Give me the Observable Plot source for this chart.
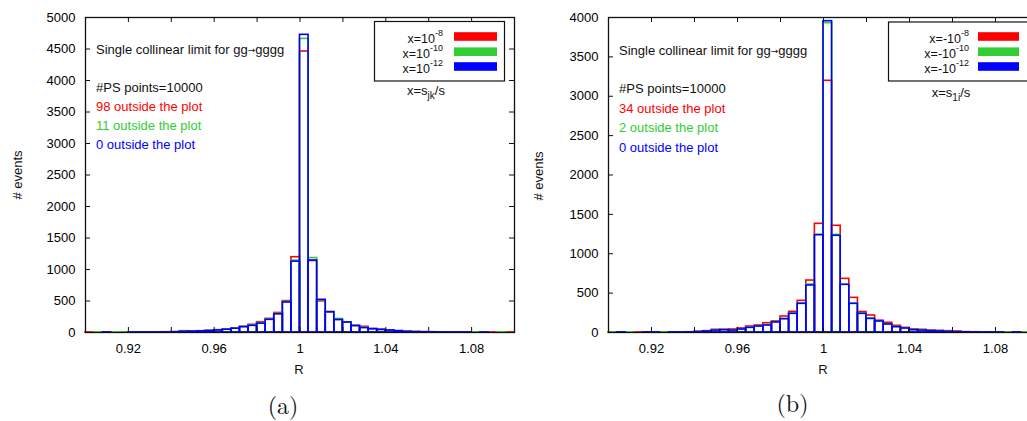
<!DOCTYPE html>
<html>
<head>
<meta charset="utf-8">
<script src="https://cdn.jsdelivr.net/npm/d3@7"></script>
<script src="https://cdn.jsdelivr.net/npm/@observablehq/plot@0.6"></script>
<style>
html, body { margin: 0; padding: 0; background: #fff; }
#root { position: relative; width: 1027px; height: 421px; overflow: hidden; font-family: "Liberation Sans", Arial, sans-serif; }
.panel { position: absolute; top: 0; }
#overlay { position: absolute; left: 0; top: 0; pointer-events: none; }
</style>
</head>
<body>
<div id="root">
  <div id="panelA" class="panel" style="left:0px;width:520px;"></div>
  <div id="panelB" class="panel" style="left:520px;width:530px;"></div>
</div>
<script>
// ---------------- DATA ----------------
const BIN_WIDTH = 0.004;
const binLeft = [
  0.900, 0.904, 0.908, 0.912, 0.916, 0.920, 0.924, 0.928, 0.932, 0.936,
  0.940, 0.944, 0.948, 0.952, 0.956, 0.960, 0.964, 0.968, 0.972, 0.976,
  0.980, 0.984, 0.988, 0.992, 0.996, 1.000, 1.004, 1.008, 1.012, 1.016,
  1.020, 1.024, 1.028, 1.032, 1.036, 1.040, 1.044, 1.048, 1.052, 1.056,
  1.060, 1.064, 1.068, 1.072, 1.076, 1.080, 1.084, 1.088, 1.092, 1.096
];

// Panel (a): x = s_jk/s
const aRed = [
  1, 0, 1, 0, 1, 1, 2, 1, 2, 4,
  6, 21, 16, 21, 26, 37, 48, 63, 90, 122,
  164, 217, 310, 498, 1195, 4460, 1135, 495, 320, 200,
  160, 100, 90, 55, 42, 32, 21, 11, 8, 5,
  4, 3, 2, 1, 1, 1, 0, 1, 0, 1
];
const aGreen = [
  0, 1, 0, 1, 1, 1, 1, 2, 1, 3,
  5, 15, 15, 19, 25, 35, 46, 61, 87, 112,
  150, 208, 296, 485, 1140, 4660, 1182, 510, 325, 215,
  160, 103, 75, 54, 42, 31, 21, 10, 7, 5,
  3, 2, 2, 1, 0, 1, 1, 0, 1, 0
];
const aBlue = [
  0, 0, 1, 0, 0, 1, 1, 1, 1, 2,
  4, 11, 14, 18, 24, 33, 44, 60, 85, 106,
  140, 201, 288, 476, 1125, 4725, 1143, 519, 323, 199,
  159, 106, 70, 53, 42, 32, 21, 11, 6, 4,
  3, 2, 1, 1, 1, 0, 1, 0, 0, 0
];

// Panel (b): x = s_1i/s
const bRed = [
  1, 1, 0, 1, 1, 2, 1, 2, 2, 3,
  8, 17, 34, 34, 38, 51, 76, 89, 118, 140,
  203, 262, 402, 660, 1380, 3196, 1355, 681, 440, 260,
  216, 150, 123, 85, 59, 38, 34, 25, 21, 17,
  13, 4, 3, 2, 2, 1, 1, 1, 0, 1
];
const bGreen = [
  1, 0, 1, 0, 1, 1, 1, 1, 2, 2,
  7, 14, 27, 31, 28, 40, 62, 78, 95, 131,
  172, 240, 368, 609, 1240, 3928, 1240, 607, 366, 240,
  176, 142, 104, 70, 53, 32, 27, 19, 14, 10,
  5, 3, 2, 1, 1, 1, 1, 0, 1, 0
];
const bBlue = [
  0, 1, 0, 0, 1, 1, 0, 1, 1, 2,
  6, 13, 25, 30, 25, 38, 59, 76, 89, 128,
  169, 237, 364, 597, 1236, 3953, 1228, 605, 364, 237,
  173, 140, 102, 68, 51, 30, 25, 17, 13, 8,
  4, 3, 2, 1, 1, 1, 0, 1, 0, 0
];

const xTicks = [0.92, 0.94, 0.96, 0.98, 1.00, 1.02, 1.04, 1.06, 1.08];
const xTickLabels = [0.92, 0.96, 1, 1.04, 1.08];
const yTicksA = [0, 500, 1000, 1500, 2000, 2500, 3000, 3500, 4000, 4500, 5000];
const yTicksB = [0, 500, 1000, 1500, 2000, 2500, 3000, 3500, 4000];

const seriesColors = ["#ff0000", "#32cd32", "#0000ff"];
const legendA = [["x=10", "-8"], ["x=10", "-10"], ["x=10", "-12"]];
const legendB = [["x=-10", "-8"], ["x=-10", "-10"], ["x=-10", "-12"]];
const outsideA = ["98 outside the plot", "11 outside the plot", "0 outside the plot"];
const outsideB = ["34 outside the plot", "2 outside the plot", "0 outside the plot"];
const psPoints = "#PS points=10000";
const titleParts = ["Single collinear limit for gg", "\u2192", "gggg"];
const xLabel = "R";
const yLabel = "# events";

// ---------------- CHART ----------------
const FONT = "'Liberation Sans', Arial, sans-serif";
const rowsOf = vals => binLeft.map((x1, i) => ({x1, x2: x1 + BIN_WIDTH, v: vals[i]}));

function histPanel({width, marginLeft, marginRight, yMax, yTicks, series}) {
  const height = 380, marginTop = 17, marginBottom = 48;
  const W = width - marginLeft - marginRight;
  const H = height - marginTop - marginBottom;
  const marks = series.map((vals, k) =>
    Plot.rectY(rowsOf(vals), {x1: "x1", x2: "x2", y: "v", fill: "none", stroke: seriesColors[k], strokeWidth: 1.6})
  );
  return Plot.plot({
    width, height, marginLeft, marginRight, marginTop, marginBottom,
    x: {domain: [0.9, 1.1]},
    y: {domain: [0, yMax]},
    style: {fontFamily: FONT, fontSize: "13px", color: "black", background: "transparent", maxWidth: "none", overflow: "visible"},
    marks: [
      ...marks,
      Plot.tickX(xTicks, {x: d => d, insetTop: H - 5, stroke: "#111"}),
      Plot.tickX(xTicks, {x: d => d, insetBottom: H - 5, stroke: "#111"}),
      Plot.tickY(yTicks, {y: d => d, insetRight: W - 5, stroke: "#111"}),
      Plot.tickY(yTicks, {y: d => d, insetLeft: W - 5, stroke: "#111"}),
      Plot.frame({stroke: "#111", strokeWidth: 1.3}),
      Plot.axisX(xTickLabels, {tickSize: 0, tickPadding: 11, fontSize: 13, label: null, tickFormat: d => String(d)}),
      Plot.axisY(yTicks, {tickSize: 0, tickPadding: 10, fontSize: 13, label: null, tickFormat: d => String(d)})
    ]
  });
}

document.getElementById("panelA").append(histPanel({
  width: 520, marginLeft: 85, marginRight: 6, yMax: 5000, yTicks: yTicksA,
  series: [aRed, aGreen, aBlue]
}));
document.getElementById("panelB").append(histPanel({
  width: 530, marginLeft: 88, marginRight: 12, yMax: 4000, yTicks: yTicksB,
  series: [bRed, bGreen, bBlue]
}));

// ---------------- TEXT OVERLAY ----------------
const svg = d3.select("#root").append("svg")
  .attr("id", "overlay").attr("width", 1027).attr("height", 421)
  .style("font-family", FONT).style("font-size", "13px");

function annotations(g, x, baselines, outside) {
  const t = g.append("text").attr("x", x).attr("y", baselines[0]).attr("fill", "#111");
  t.append("tspan").text(titleParts[0]);
  t.append("tspan").attr("font-size", 9).style("font-family", "'DejaVu Sans', sans-serif").attr("dy", -0.5).text(titleParts[1]);
  t.append("tspan").attr("font-size", 13).attr("dy", 0.5).text(titleParts[2]);
  g.append("text").attr("x", x).attr("y", baselines[1]).attr("fill", "#111").text(psPoints);
  outside.forEach((s, i) => g.append("text").attr("x", x).attr("y", baselines[i + 2]).attr("fill", seriesColors[i]).text(s));
}
annotations(svg, 96, [53.5, 91.5, 110.5, 129.5, 148.5], outsideA);
annotations(svg, 619, [54.5, 93, 112.5, 132, 151.5], outsideB);

function legend(g, box, textRight, swX, swW, entries, varLabel, varSub, varX, varY) {
  g.append("rect").attr("x", box[0]).attr("y", box[1]).attr("width", box[2]).attr("height", box[3])
    .attr("fill", "white").attr("stroke", "#111").attr("stroke-width", 1.2);
  const base = [43.3, 58, 72.5];
  const swC = [36.5, 51.7, 66.5];
  entries.forEach((e, i) => {
    const t = g.append("text").attr("x", textRight).attr("y", base[i]).attr("text-anchor", "end")
      .attr("fill", "#111").attr("font-size", 12.5);
    t.append("tspan").text(e[0]);
    t.append("tspan").attr("font-size", 9).attr("dy", -7).text(e[1]);
    g.append("rect").attr("x", swX).attr("y", swC[i] - 4.3).attr("width", swW).attr("height", 8.6).attr("fill", seriesColors[i]);
  });
  const v = g.append("text").attr("x", varX).attr("y", varY).attr("text-anchor", "middle").attr("fill", "#111");
  v.append("tspan").text(varLabel[0]);
  v.append("tspan").attr("font-size", 10).attr("dy", 4).text(varSub);
  v.append("tspan").attr("dy", -4).text(varLabel[1]);
}
legend(svg, [374.5, 21.5, 130, 59.5], 443, 454, 43, legendA, ["x=s", "/s"], "jk", 426, 95);
legend(svg, [888.5, 22, 145, 59], 969, 978, 41, legendB, ["x=s", "/s"], "1i", 951, 97);

// axis titles
[[21.5, 175], [543, 176]].forEach(([x, y]) => {
  svg.append("text").attr("transform", `translate(${x},${y}) rotate(-90)`).attr("text-anchor", "middle").attr("fill", "#111").text(yLabel);
});
[[299, 374], [823, 374]].forEach(([x, y]) => {
  svg.append("text").attr("x", x).attr("y", y).attr("text-anchor", "middle").attr("fill", "#111").text(xLabel);
});
[["(a)", 283, 414], ["(b)", 792.5, 412]].forEach(([s, x, y]) => {
  svg.append("text").attr("x", x).attr("y", y).attr("text-anchor", "middle")
    .style("font-family", "'Latin Modern Roman', 'CMU Serif', 'DejaVu Serif', serif").style("font-size", "24px").attr("fill", "#111").text(s);
});
</script>
</body>
</html>
